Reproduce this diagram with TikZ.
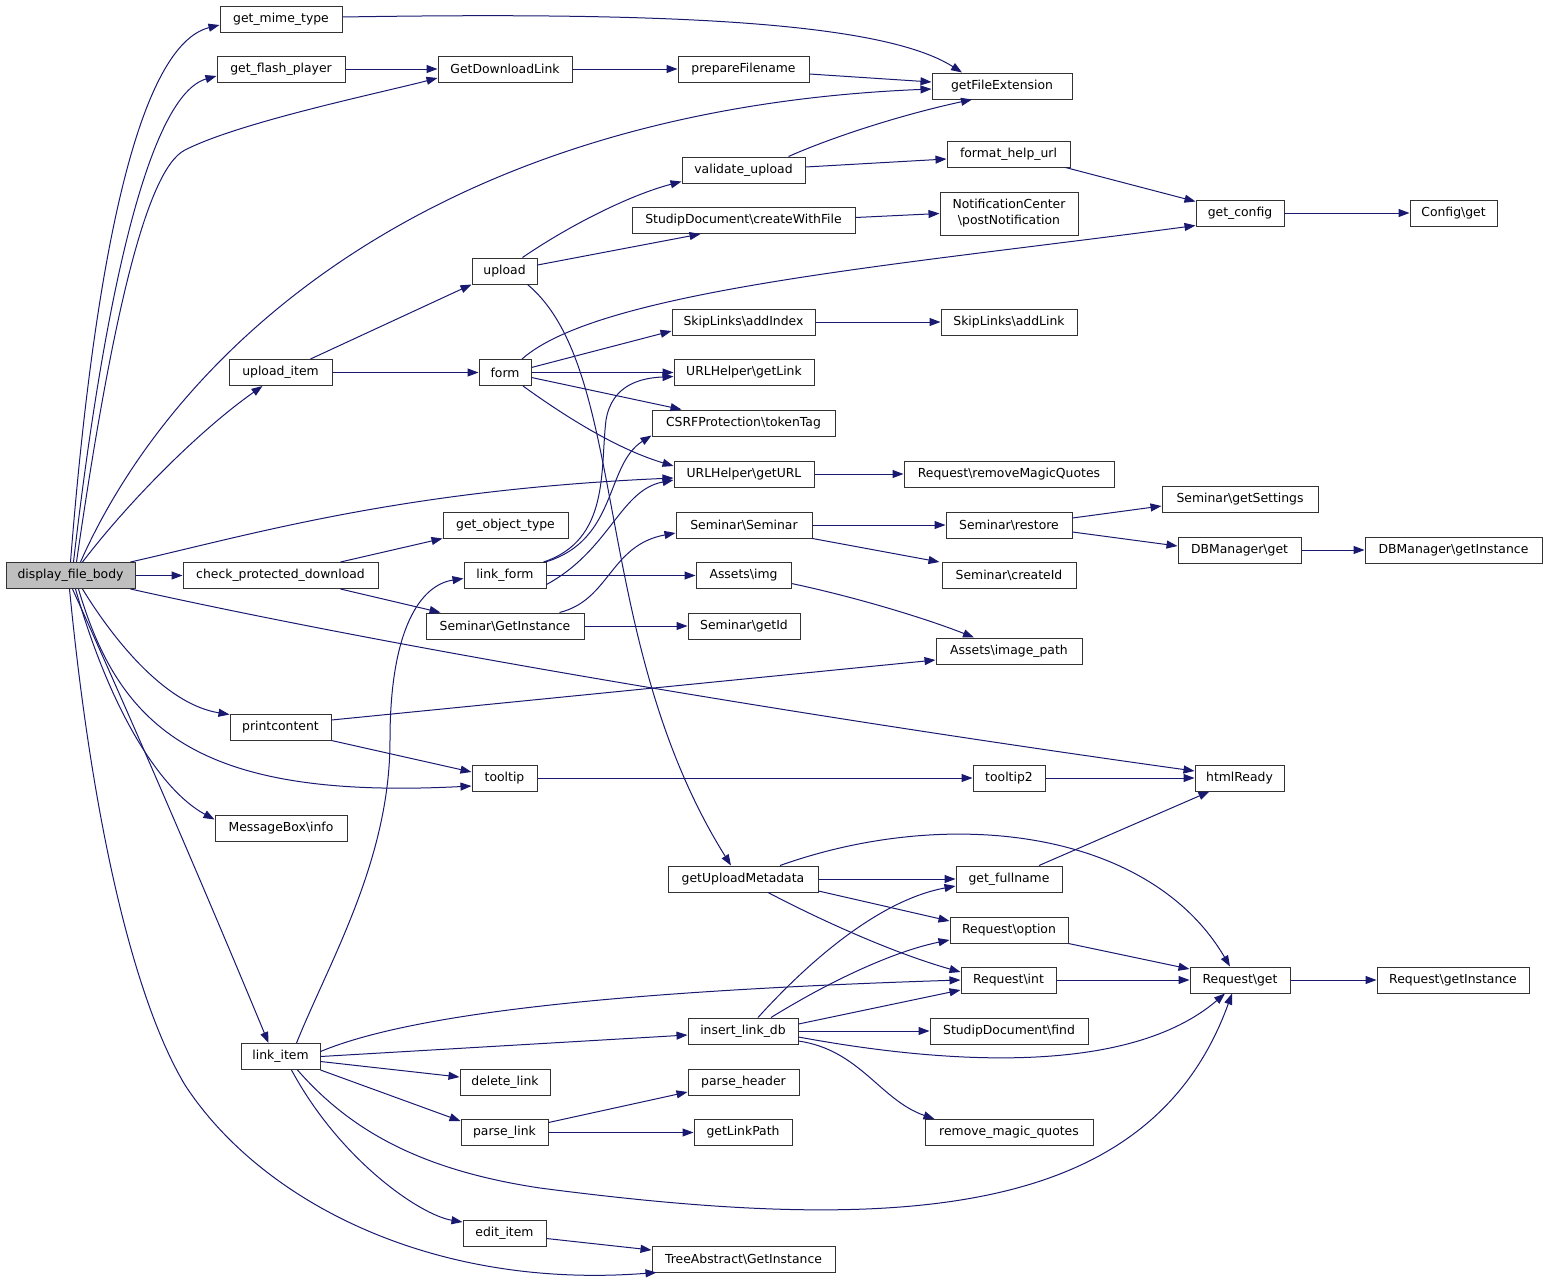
\documentclass[tikz,border=0pt]{standalone}
\usepackage{fontspec}
\setmainfont{DejaVu Sans}
\usetikzlibrary{arrows.meta}
\definecolor{edgeblue}{HTML}{191970}
\begin{document}
\begin{tikzpicture}[x=1pt,y=-1pt,
  box/.style={draw=black!80, line width=1pt, fill=white, minimum height=26pt, inner sep=0pt, font=\fontsize{12.4}{14}\selectfont},
  edge/.style={draw=edgeblue, line width=1pt, -{Triangle[length=11pt,width=8pt]}}]
\useasboundingbox (0,0) rectangle (1547,1285);
% nodes
\node[box, minimum width=129pt, fill=black!25] (dfb) at (70.5,575.5) {display\_file\_body};
\node[box, minimum width=122pt] (mime) at (281,19) {get\_mime\_type};
\node[box, minimum width=128pt] (flash) at (281,69) {get\_flash\_player};
\node[box, minimum width=134pt] (gdl) at (505,69) {GetDownloadLink};
\node[box, minimum width=131pt] (prep) at (743.5,69) {prepareFilename};
\node[box, minimum width=140pt] (gfe) at (1002,86) {getFileExtension};
\node[box, minimum width=123pt] (valid) at (743.5,170) {validate\_upload};
\node[box, minimum width=123pt] (fhu) at (1008.5,154) {format\_help\_url};
\node[box, minimum width=223pt] (cwf) at (743.5,220.5) {StudipDocument\textbackslash{}createWithFile};
\node[box, minimum width=138pt, minimum height=43pt, align=center, font=\fontsize{12.4}{16}\selectfont] (notif) at (1009,213.5) {NotificationCenter\\\textbackslash{}postNotification};
\node[box, minimum width=88pt] (gconf) at (1240,213) {get\_config};
\node[box, minimum width=87pt] (cget) at (1453.5,213) {Config\textbackslash{}get};
\node[box, minimum width=65pt] (upload) at (504.5,271) {upload};
\node[box, minimum width=143pt] (addidx) at (743.5,322) {SkipLinks\textbackslash{}addIndex};
\node[box, minimum width=136pt] (addlink) at (1009,322) {SkipLinks\textbackslash{}addLink};
\node[box, minimum width=103pt] (uitem) at (280.5,372.5) {upload\_item};
\node[box, minimum width=52pt] (form) at (505,372.5) {form};
\node[box, minimum width=140pt] (getlink) at (744,372.5) {URLHelper\textbackslash{}getLink};
\node[box, minimum width=183pt] (csrf) at (743.5,423) {CSRFProtection\textbackslash{}tokenTag};
\node[box, minimum width=140pt] (geturl) at (744,474) {URLHelper\textbackslash{}getURL};
\node[box, minimum width=210pt] (rmq) at (1009,474) {Request\textbackslash{}removeMagicQuotes};
\node[box, minimum width=125pt] (gobj) at (505.5,525) {get\_object\_type};
\node[box, minimum width=136pt] (semsem) at (744,525) {Seminar\textbackslash{}Seminar};
\node[box, minimum width=126pt] (restore) at (1009,525) {Seminar\textbackslash{}restore};
\node[box, minimum width=156pt] (settings) at (1240,499) {Seminar\textbackslash{}getSettings};
\node[box, minimum width=123pt] (dbget) at (1239.5,550) {DBManager\textbackslash{}get};
\node[box, minimum width=177pt] (dbinst) at (1453.5,550) {DBManager\textbackslash{}getInstance};
\node[box, minimum width=195pt] (cpd) at (280.5,575.5) {check\_protected\_download};
\node[box, minimum width=82pt] (lform) at (505,575.5) {link\_form};
\node[box, minimum width=95pt] (aimg) at (743.5,575.5) {Assets\textbackslash{}img};
\node[box, minimum width=134pt] (createid) at (1009,575.5) {Seminar\textbackslash{}createId};
\node[box, minimum width=158pt] (semgi) at (505,626) {Seminar\textbackslash{}GetInstance};
\node[box, minimum width=112pt] (getid) at (744,626) {Seminar\textbackslash{}getId};
\node[box, minimum width=146pt] (imgpath) at (1009,651) {Assets\textbackslash{}image\_path};
\node[box, minimum width=101pt] (pcont) at (280.5,727) {printcontent};
\node[box, minimum width=65pt] (tooltip) at (504.5,778) {tooltip};
\node[box, minimum width=72pt] (tooltip2) at (1009,778) {tooltip2};
\node[box, minimum width=89pt] (html) at (1239.5,778) {htmlReady};
\node[box, minimum width=132pt] (msgbox) at (281,828.5) {MessageBox\textbackslash{}info};
\node[box, minimum width=150pt] (gum) at (743,879) {getUploadMetadata};
\node[box, minimum width=106pt] (fullname) at (1009,879) {get\_fullname};
\node[box, minimum width=118pt] (ropt) at (1009,930) {Request\textbackslash{}option};
\node[box, minimum width=95pt] (rint) at (1008.5,980) {Request\textbackslash{}int};
\node[box, minimum width=100pt] (rget) at (1240,980) {Request\textbackslash{}get};
\node[box, minimum width=152pt] (rinst) at (1453,980) {Request\textbackslash{}getInstance};
\node[box, minimum width=110pt] (ildb) at (743,1031) {insert\_link\_db};
\node[box, minimum width=158pt] (sfind) at (1009,1031) {StudipDocument\textbackslash{}find};
\node[box, minimum width=79pt] (litem) at (280.5,1056.5) {link\_item};
\node[box, minimum width=90pt] (dlink) at (505,1082) {delete\_link};
\node[box, minimum width=111pt] (phdr) at (743.5,1082) {parse\_header};
\node[box, minimum width=87pt] (plink) at (504.5,1132.5) {parse\_link};
\node[box, minimum width=98pt] (glp) at (743,1132.5) {getLinkPath};
\node[box, minimum width=168pt] (rmagic) at (1009,1132.5) {remove\_magic\_quotes};
\node[box, minimum width=83pt] (edit) at (504.5,1233.5) {edit\_item};
\node[box, minimum width=183pt] (tree) at (743.5,1259) {TreeAbstract\textbackslash{}GetInstance};
% edges from display_file_body
\draw[edge] ([xshift=0pt]dfb.north) .. controls (95,250) and (140,45) .. ([yshift=-6pt]mime.west);
\draw[edge] ([xshift=3pt]dfb.north) .. controls (105,290) and (150,95) .. ([yshift=-7pt]flash.west);
\draw[edge] ([xshift=6pt]dfb.north) .. controls (110,330) and (145,170) .. (185,150) .. controls (240,122) and (380,93) .. ([yshift=-9pt]gdl.west);
\draw[edge] ([xshift=10pt]dfb.north) .. controls (170,360) and (420,110) .. ([yshift=-3pt]gfe.west);
\draw[edge] ([xshift=12pt]dfb.north) .. controls (130,500) and (200,430) .. ([xshift=-18pt]uitem.south);
\draw[edge] ([xshift=-5pt]dfb.north east) .. controls (250,535) and (400,490) .. ([yshift=-4pt]geturl.west);
\draw[edge] (dfb.east) -- (cpd.west);
\draw[edge] ([xshift=-5pt]dfb.south east) .. controls (450,660) and (900,730) .. ([yshift=7pt]html.west);
\draw[edge] ([xshift=12pt]dfb.south) .. controls (120,650) and (170,705) .. ([yshift=-1pt]pcont.north west);
\draw[edge] ([xshift=8pt]dfb.south) .. controls (120,730) and (200,800) .. ([yshift=-8pt]tooltip.west);
\draw[edge] ([xshift=5pt]dfb.south) .. controls (110,710) and (160,790) .. ([yshift=9pt]msgbox.west);
\draw[edge] ([xshift=2pt]dfb.south) .. controls (150,760) and (230,950) .. ([xshift=-12pt]litem.north);
\draw[edge] ([xshift=-1pt]dfb.south) .. controls (95,850) and (140,1010) .. (185,1085) .. controls (260,1200) and (430,1290) .. ([xshift=5pt]tree.south west);
% upper part
\draw[edge] ([yshift=2pt]mime.east) .. controls (650,12) and (880,20) .. ([xshift=-40pt]gfe.north);
\draw[edge] (flash.east) -- (gdl.west);
\draw[edge] (gdl.east) -- (prep.west);
\draw[edge] ([yshift=-5pt]prep.east) -- ([yshift=4pt]gfe.west);
\draw[edge] ([xshift=45pt]valid.north) .. controls (830,138) and (900,115) .. ([xshift=-30pt]gfe.south);
\draw[edge] ([yshift=3pt]valid.east) -- ([yshift=-5pt]fhu.west);
\draw[edge] ([xshift=-5pt]fhu.south east) -- ([yshift=-2pt]gconf.north west);
\draw[edge] (gconf.east) -- (cget.west);
\draw[edge] ([yshift=3pt]cwf.east) -- (notif.west);
\draw[edge] ([xshift=18pt]upload.north) .. controls (570,225) and (630,195) .. ([yshift=2pt]valid.south west);
\draw[edge] ([yshift=6pt]upload.east) -- ([xshift=-43pt]cwf.south);
\draw[edge] ([xshift=-10pt]upload.south east) .. controls (630,370) and (590,640) .. ([xshift=-12pt]gum.north);
\draw[edge] ([xshift=30pt]uitem.north) -- (upload.south west);
\draw[edge] (uitem.east) -- (form.west);
\draw[edge] ([xshift=17pt]form.north) .. controls (600,290) and (900,265) .. ([yshift=1pt]gconf.south west);
\draw[edge] ([yshift=5pt]form.east) -- ([yshift=-9pt]addidx.west);
\draw[edge] (form.east) -- (getlink.west);
\draw[edge] ([yshift=-5pt]form.east) -- ([xshift=30pt]csrf.north west);
\draw[edge] ([xshift=18pt]form.south) .. controls (570,420) and (620,450) .. ([yshift=8pt]geturl.west);
\draw[edge] (addidx.east) -- (addlink.west);
\draw[edge] (geturl.east) -- (rmq.west);
\draw[edge] ([xshift=-3pt]lform.north east) .. controls (610,540) and (600,470) .. (606,420) .. controls (612,385) and (640,378) .. ([yshift=-4pt]getlink.west);
\draw[edge] ([xshift=-1pt]lform.north east) .. controls (618,540) and (605,465) .. ([yshift=1pt]csrf.south west);
\draw[edge] ([yshift=-9pt]lform.east) .. controls (610,550) and (620,490) .. ([yshift=-6pt]geturl.west);
\draw[edge] (lform.east) -- (aimg.west);
\draw[edge] ([xshift=60pt]cpd.north) -- (gobj.south west);
\draw[edge] ([xshift=60pt]cpd.south) -- ([xshift=15pt]semgi.north west);
\draw[edge] ([xshift=-25pt]semgi.north east) .. controls (610,600) and (610,545) .. ([yshift=-8pt]semsem.west);
\draw[edge] (semgi.east) -- (getid.west);
\draw[edge] (semsem.east) -- (restore.west);
\draw[edge] (semsem.south east) -- ([xshift=-2pt]createid.north west);
\draw[edge] ([yshift=7pt]restore.east) -- ([yshift=-7pt]settings.west);
\draw[edge] ([yshift=-7pt]restore.east) -- ([yshift=4pt]dbget.west);
\draw[edge] (dbget.east) -- (dbinst.west);
\draw[edge] ([yshift=-8pt]aimg.east) .. controls (860,598) and (930,620) .. ([xshift=-35pt]imgpath.north);
\draw[edge] ([yshift=7pt]pcont.east) -- ([yshift=-9pt]imgpath.west);
\draw[edge] (pcont.south east) -- ([yshift=6pt]tooltip.west);
\draw[edge] (tooltip.east) -- (tooltip2.west);
\draw[edge] (tooltip2.east) -- (html.west);
% lower part
\draw[edge] (gum.east) -- (fullname.west);
\draw[edge] ([xshift=37pt]gum.north) .. controls (950,805) and (1150,830) .. ([xshift=-10pt]rget.north);
\draw[edge] ([yshift=-12pt]gum.east) -- ([yshift=9pt]ropt.west);
\draw[edge] ([xshift=25pt]gum.south) .. controls (830,925) and (900,955) .. ([yshift=8pt]rint.west);
\draw[edge] ([xshift=30pt]fullname.north) -- ([xshift=15pt]html.south west);
\draw[edge] (ropt.south east) -- ([yshift=11pt]rget.west);
\draw[edge] (rint.east) -- (rget.west);
\draw[edge] (rget.east) -- (rinst.west);
\draw[edge] ([xshift=15pt]ildb.north) .. controls (810,960) and (880,900) .. ([yshift=-7pt]fullname.west);
\draw[edge] ([xshift=28pt]ildb.north) .. controls (840,975) and (900,950) .. ([yshift=-10pt]ropt.west);
\draw[edge] ([yshift=7pt]ildb.east) -- ([yshift=-10pt]rint.west);
\draw[edge] (ildb.east) -- (sfind.west);
\draw[edge] ([yshift=-6pt]ildb.east) .. controls (950,1065) and (1130,1075) .. ([xshift=-15pt]rget.south);
\draw[edge] ([yshift=-10pt]ildb.east) .. controls (860,1050) and (880,1100) .. ([xshift=10pt]rmagic.north west);
\draw[edge] ([xshift=16pt]litem.north) .. controls (330,960) and (390,860) .. (390,740) .. controls (390,630) and (420,585) .. ([yshift=-3pt]lform.west);
\draw[edge] ([yshift=5pt]litem.east) .. controls (420,1010) and (650,990) .. (rint.west);
\draw[edge] (litem.east) -- ([yshift=-4pt]ildb.west);
\draw[edge] ([yshift=-5pt]litem.east) -- ([yshift=5pt]dlink.west);
\draw[edge] (litem.south east) -- ([yshift=-2pt]plink.north west);
\draw[edge] ([xshift=17pt]litem.south) .. controls (350,1130) and (420,1170) .. (540,1188) .. controls (900,1235) and (1150,1220) .. ([xshift=-8pt]rget.south);
\draw[edge] ([xshift=11pt]litem.south) .. controls (340,1160) and (420,1215) .. ([yshift=-2pt]edit.north west);
\draw[edge] ([yshift=10pt]plink.east) -- ([yshift=-10pt]phdr.west);
\draw[edge] (plink.east) -- (glp.west);
\draw[edge] ([yshift=-5pt]edit.east) -- ([yshift=9pt]tree.west);
\end{tikzpicture}
\end{document}
